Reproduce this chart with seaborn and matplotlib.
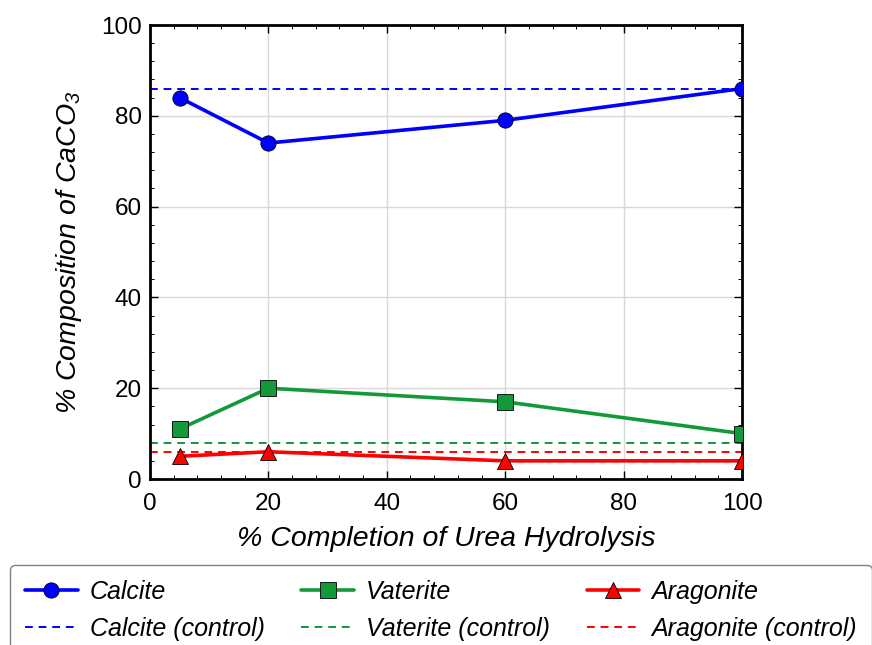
import matplotlib
matplotlib.use("Agg")
import matplotlib.pyplot as plt
from matplotlib.ticker import MultipleLocator
import seaborn as sns
import pandas as pd

completion = [5, 20, 60, 100]
calcite = [84, 74, 79, 86]
vaterite = [11, 20, 17, 10]
aragonite = [5, 6, 4, 4]
controls = {"Calcite": 86, "Vaterite": 8, "Aragonite": 6}
phases = ["Calcite", "Vaterite", "Aragonite"]
colors = {"Calcite": "#0000FF", "Vaterite": "#12993A", "Aragonite": "#FF0000"}
markers = {"Calcite": "o", "Vaterite": "s", "Aragonite": "^"}

df = pd.DataFrame({
    "x": completion * 3,
    "y": calcite + vaterite + aragonite,
    "phase": ["Calcite"] * 4 + ["Vaterite"] * 4 + ["Aragonite"] * 4,
})

sns.set_theme(style="white")
plt.rcParams["font.family"] = ["Liberation Sans", "DejaVu Sans"]
plt.rcParams["mathtext.fontset"] = "custom"
plt.rcParams["mathtext.rm"] = "Liberation Sans:italic"
plt.rcParams["mathtext.it"] = "Liberation Sans:italic"
plt.rcParams["text.color"] = "black"
plt.rcParams["axes.labelcolor"] = "black"
plt.rcParams["xtick.color"] = "black"
plt.rcParams["ytick.color"] = "black"

fig = plt.figure(figsize=(8.72, 6.45), dpi=100)
ax = fig.add_axes([150 / 872, 1 - 479 / 645, (742 - 150) / 872, (479 - 25) / 645])

sns.lineplot(data=df, x="x", y="y", hue="phase", style="phase",
             hue_order=phases, style_order=phases,
             palette=colors, markers=markers, dashes=False,
             linewidth=2.6, markersize=11, markeredgecolor="black",
             markeredgewidth=0.6, ax=ax, legend=False, zorder=3)

handles = []
for p in phases:
    h1, = ax.plot([], [], color=colors[p], marker=markers[p], lw=2.6, ms=11,
                  mec="black", mew=0.6, label=p)
    h2 = ax.axhline(controls[p], color=colors[p], ls=(0, (4, 3)), lw=1.4,
                    label=f"{p} (control)", zorder=2)
    handles += [h1, h2]

ax.set_xlim(0, 100)
ax.set_ylim(0, 100)
ax.xaxis.set_major_locator(MultipleLocator(20))
ax.yaxis.set_major_locator(MultipleLocator(20))
ax.xaxis.set_minor_locator(MultipleLocator(4))
ax.yaxis.set_minor_locator(MultipleLocator(4))
ax.tick_params(which="both", direction="in", top=True, right=True, bottom=True, left=True)
ax.tick_params(which="major", length=6, width=1, labelsize=17.5, colors="black", pad=6)
ax.tick_params(axis="x", which="major", pad=10)
ax.tick_params(which="minor", length=3, width=0.7)
ax.grid(True, which="major", color="#d8d8d8", lw=1)
for s in ax.spines.values():
    s.set_color("black")
    s.set_linewidth(2)

ax.set_xlabel("% Completion of Urea Hydrolysis", fontsize=20.5, fontstyle="italic",
              labelpad=8, color="black")
ax.set_ylabel(r"% Composition of CaCO$_{3}$", fontsize=20.5, fontstyle="italic",
              labelpad=12, color="black")

leg = fig.legend(handles=handles, loc="upper left", bbox_to_anchor=(10 / 872, 1 - 565 / 645),
                 ncol=3, fontsize=18, frameon=True, fancybox=True,
                 handlelength=2.1, columnspacing=1.45, borderpad=0.6,
                 labelspacing=0.52, handletextpad=0.5, borderaxespad=0)
for t in leg.get_texts():
    t.set_fontstyle("italic")
    t.set_color("black")
leg.get_frame().set_edgecolor("#606060")
leg.get_frame().set_linewidth(1)

fig.savefig("out.png", dpi=100)
